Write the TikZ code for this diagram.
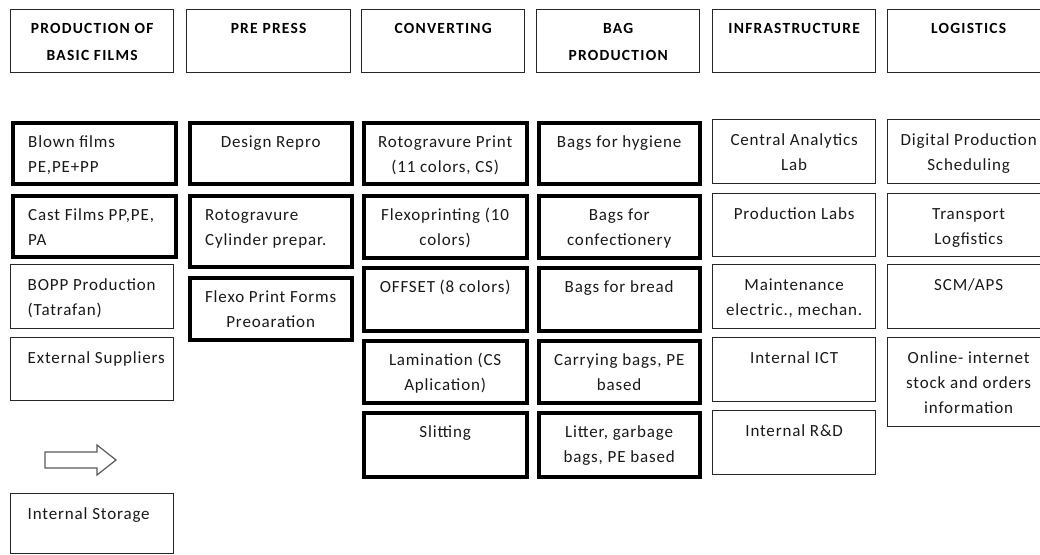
\documentclass[tikz,border=0pt]{standalone}
\usepackage{fontspec}
\usetikzlibrary{calc}
\newfontfamily\bodyf[LetterSpace=5]{Carlito}
\newfontfamily\headf[LetterSpace=8]{Carlito}
\tikzset{
  thinbox/.style={draw=black!85, line width=1.3pt, rectangle, inner sep=0pt, fill=none},
  thickbox/.style={draw=black, line width=4.3pt, rectangle, inner sep=0pt, fill=none},
  bodytxt/.style={font=\bodyf\fontsize{17}{25}\selectfont, inner sep=0pt, text=black!90},
  headtxt/.style={font=\headf\bfseries\fontsize{15.5}{27}\selectfont, inner sep=0pt, text=black},
  blockarrow/.style={draw=black!65, line width=1.2pt, fill=white, line join=miter}
}
% #1 name, #2 box style, #3 x1, #4 y1, #5 x2, #6 y2, #7 text
\newcommand\cbox[7]{%
  \node[#2, anchor=north west, minimum width={(#5-#3)*1pt}, minimum height={(#6-#4)*1pt}] (#1) at (#3,#4) {};
  \node[bodytxt, align=center, anchor=north] (#1t) at ($(#1.north)+(0,9)$) {\strut #7};
}
\newcommand\lbox[7]{%
  \node[#2, anchor=north west, minimum width={(#5-#3)*1pt}, minimum height={(#6-#4)*1pt}] (#1) at (#3,#4) {};
  \node[bodytxt, align=left, anchor=north west] (#1t) at ($(#1.north west)+(17.5,9)$) {\strut #7};
}
\newcommand\headbox[6]{%
  \node[thinbox, anchor=north west, minimum width={(#4-#2)*1pt}, minimum height={(#5-#3)*1pt}] (#1) at (#2,#3) {};
  \node[headtxt, align=center, anchor=north] (#1t) at ($(#1.north)+(0,5)$) {\strut #6};
}
\begin{document}
\begin{tikzpicture}[x=1pt, y=-1pt]
\useasboundingbox (0,0) rectangle (1040,554);
\clip (0,0) rectangle (1040,554);
% headers
\headbox{h1}{10}{9}{173}{72}{PRODUCTION OF\\BASIC FILMS}
\headbox{h2}{186}{9}{350}{72}{PRE PRESS}
\headbox{h3}{361}{9}{524}{72}{CONVERTING}
\headbox{h4}{536}{9}{699}{72}{BAG\\PRODUCTION}
\headbox{h5}{712}{9}{875}{72}{INFRASTRUCTURE}
\headbox{h6}{887}{9}{1049}{72}{LOGISTICS}
% column 1
\lbox{a1}{thickbox}{10.5}{120.5}{173.5}{181.5}{Blown films\\PE,PE+PP}
\lbox{a2}{thickbox}{10.5}{193.5}{173.5}{254.5}{Cast Films PP,PE,\\PA}
\lbox{a3}{thinbox}{10}{264}{173}{328}{BOPP Production\\(Tatrafan)}
\lbox{a4}{thinbox}{10}{337}{173}{400}{External Suppliers}
\lbox{a5}{thinbox}{10}{493}{173}{553}{Internal Storage}
% block arrow
\draw[blockarrow] (45,452) -- (97,452) -- (97,445) -- (116,460) -- (97,475) -- (97,468) -- (45,468) -- cycle;
% column 2
\cbox{b1}{thickbox}{187.5}{120.5}{349.5}{181.5}{Design Repro}
\lbox{b2}{thickbox}{187.5}{193.5}{349.5}{264.5}{Rotogravure\\Cylinder prepar.}
\cbox{b3}{thickbox}{187.5}{275.5}{349.5}{337.5}{Flexo Print Forms\\Preoaration}
% column 3
\cbox{c1}{thickbox}{361.5}{120.5}{524.5}{181.5}{Rotogravure Print\\(11 colors, CS)}
\cbox{c2}{thickbox}{361.5}{193.5}{524.5}{255.5}{Flexoprinting (10\\colors)}
\cbox{c3}{thickbox}{361.5}{265.5}{524.5}{328.5}{OFFSET (8 colors)}
\cbox{c4}{thickbox}{361.5}{338.5}{524.5}{400.5}{Lamination (CS\\Aplication)}
\cbox{c5}{thickbox}{361.5}{410.5}{524.5}{474.5}{Slitting}
% column 4
\cbox{d1}{thickbox}{536.5}{120.5}{697.5}{181.5}{Bags for hygiene}
\cbox{d2}{thickbox}{536.5}{193.5}{697.5}{255.5}{Bags for\\confectionery}
\cbox{d3}{thickbox}{536.5}{265.5}{697.5}{328.5}{Bags for bread}
\cbox{d4}{thickbox}{536.5}{338.5}{697.5}{400.5}{Carrying bags, PE\\based}
\cbox{d5}{thickbox}{536.5}{410.5}{697.5}{474.5}{Litter, garbage\\bags, PE based}
% column 5
\cbox{e1}{thinbox}{712}{119}{875}{183}{Central Analytics\\Lab}
\cbox{e2}{thinbox}{712}{193}{875}{256}{Production Labs}
\cbox{e3}{thinbox}{712}{264}{875}{328}{Maintenance\\electric., mechan.}
\cbox{e4}{thinbox}{712}{337}{875}{401}{Internal ICT}
\cbox{e5}{thinbox}{712}{410}{875}{474}{Internal R\&D}
% column 6
\cbox{f1}{thinbox}{887}{119}{1049}{183}{Digital Production\\Scheduling}
\cbox{f2}{thinbox}{887}{193}{1049}{256}{Transport\\Logfistics}
\cbox{f3}{thinbox}{887}{264}{1049}{328}{SCM/APS}
\cbox{f4}{thinbox}{887}{337}{1049}{426}{Online- internet\\stock and orders\\information}
\end{tikzpicture}
\end{document}
